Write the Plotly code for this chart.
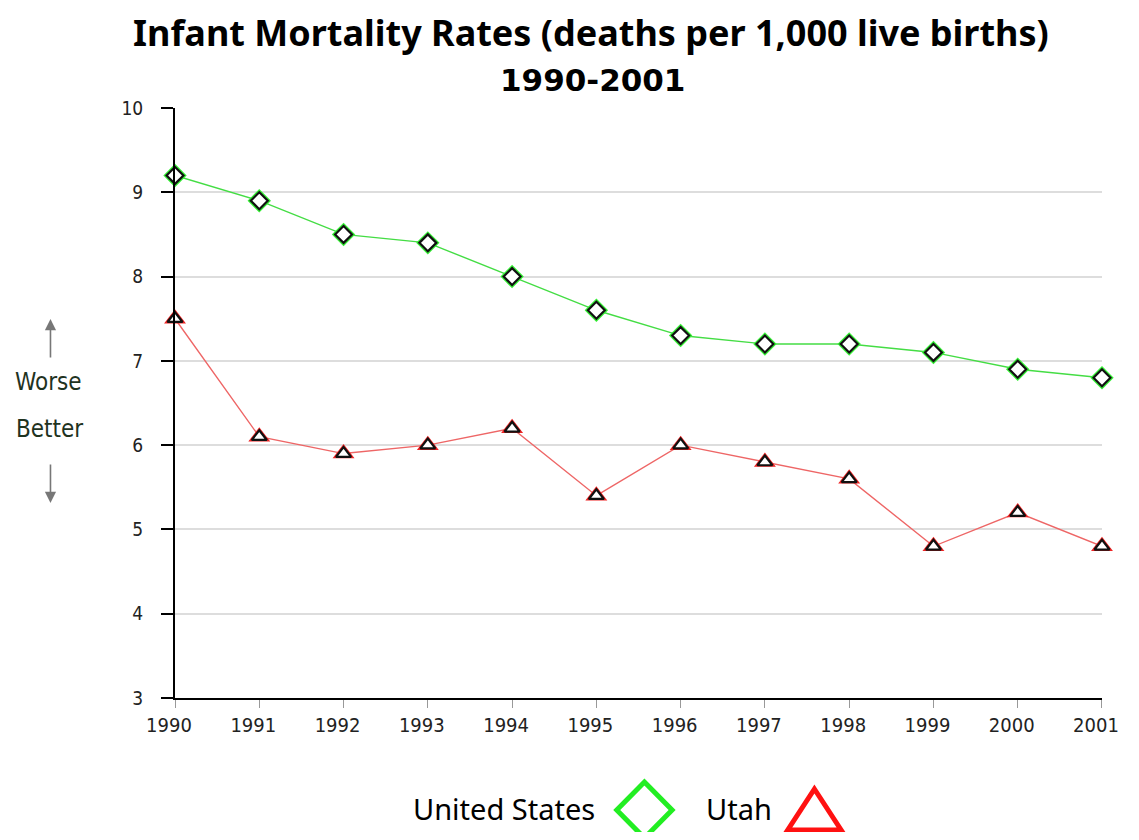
import plotly.graph_objects as go

years = list(range(1990, 2002))
us_rates = [9.2, 8.9, 8.5, 8.4, 8.0, 7.6, 7.3, 7.2, 7.2, 7.1, 6.9, 6.8]
utah_rates = [7.5, 6.1, 5.9, 6.0, 6.2, 5.4, 6.0, 5.8, 5.6, 4.8, 5.2, 4.8]
y_ticks = [3, 4, 5, 6, 7, 8, 9, 10]

# page has an 8px body margin; size figure to fit in viewport
OFF = 8
W, H = 1123, 824
L, T = 175 - OFF, 108 - OFF
R = W - (1113 - OFF)
B = H - (698 - OFF)
pw, ph = W - L - R, H - T - B

def px(x):
    return (x - OFF - L) / pw

def py(y):
    return (H - B - (y - OFF)) / ph

fig = go.Figure()

# United States
fig.add_trace(go.Scatter(x=years, y=us_rates, mode="lines", line=dict(color="#44dd44", width=1.4),
                         showlegend=False, hoverinfo="skip", cliponaxis=False))
fig.add_trace(go.Scatter(x=years, y=us_rates, mode="markers", showlegend=False, cliponaxis=False,
                         marker=dict(symbol="diamond", size=18, color="#33ee33", line=dict(width=0))))
fig.add_trace(go.Scatter(x=years, y=us_rates, mode="markers", name="United States", showlegend=False,
                         cliponaxis=False,
                         marker=dict(symbol="diamond", size=13, color="white", line=dict(color="#111111", width=2.2))))

# Utah
fig.add_trace(go.Scatter(x=years, y=utah_rates, mode="lines", line=dict(color="#ee6666", width=1.4),
                         showlegend=False, hoverinfo="skip", cliponaxis=False))
fig.add_trace(go.Scatter(x=years, y=utah_rates, mode="markers", showlegend=False, cliponaxis=False,
                         marker=dict(symbol="triangle-up", size=19, color="#ee2222", line=dict(width=0))))
fig.add_trace(go.Scatter(x=years, y=utah_rates, mode="markers", name="Utah", showlegend=False,
                         cliponaxis=False,
                         marker=dict(symbol="triangle-up", size=13, color="white", line=dict(color="#111111", width=2.2))))

shapes = []
# legend diamond
cx, cy, hw, hh = 650, 810, 28, 28
shapes.append(dict(type="path", xref="paper", yref="paper",
                   path=f"M {px(cx)} {py(cy-hh)} L {px(cx+hw)} {py(cy)} L {px(cx)} {py(cy+hh)} L {px(cx-hw)} {py(cy)} Z",
                   line=dict(color="#22ee22", width=5), fillcolor="rgba(0,0,0,0)"))
# legend triangle
shapes.append(dict(type="path", xref="paper", yref="paper",
                   path=f"M {px(822)} {py(789)} L {px(849)} {py(830)} L {px(795)} {py(830)} Z",
                   line=dict(color="#ff1111", width=5), fillcolor="rgba(0,0,0,0)"))

annotations = [
    dict(text="<b>Infant Mortality Rates (deaths per 1,000 live births)</b>", x=px(596), y=py(32),
         xref="paper", yref="paper", showarrow=False, font=dict(size=36, color="black", family="Noto Sans"),
         xanchor="center", yanchor="middle"),
    dict(text="<b>1990-2001</b>", x=px(597), y=py(80),
         xref="paper", yref="paper", showarrow=False, font=dict(size=31, color="black", family="DejaVu Sans"),
         xanchor="center", yanchor="middle"),
    dict(text="United States", x=px(602), y=py(808), xref="paper", yref="paper", showarrow=False,
         font=dict(size=29, color="black", family="Noto Sans"), xanchor="right", yanchor="middle"),
    dict(text="Utah", x=px(710), y=py(808), xref="paper", yref="paper", showarrow=False,
         font=dict(size=29, color="black", family="Noto Sans"), xanchor="left", yanchor="middle"),
    dict(text="Worse", x=px(47), y=py(382), xref="paper", yref="paper", showarrow=False,
         font=dict(size=24, color="#1f331f", family="DejaVu Sans Condensed, DejaVu Sans"), xanchor="center", yanchor="middle"),
    dict(text="Better", x=px(48), y=py(429), xref="paper", yref="paper", showarrow=False,
         font=dict(size=24, color="#1f331f", family="DejaVu Sans Condensed, DejaVu Sans"), xanchor="center", yanchor="middle"),
    dict(text="", x=px(49), y=py(319), xref="paper", yref="paper", showarrow=True,
         axref="pixel", ayref="pixel", ax=0, ay=40, arrowhead=2, arrowsize=1.4, arrowwidth=1.6, arrowcolor="#777777"),
    dict(text="", x=px(49), y=py(503), xref="paper", yref="paper", showarrow=True,
         axref="pixel", ayref="pixel", ax=0, ay=-40, arrowhead=2, arrowsize=1.4, arrowwidth=1.6, arrowcolor="#777777"),
]

fig.update_layout(
    width=W, height=H,
    margin=dict(l=L, r=R, t=T, b=B),
    paper_bgcolor="white", plot_bgcolor="white",
    font=dict(family="DejaVu Sans Condensed, DejaVu Sans", color="#222222"),
    shapes=shapes, annotations=annotations, showlegend=False,
    xaxis=dict(range=[1989.9999, 2001.0001], tickvals=years, ticktext=[str(y) for y in years],
               showgrid=False, zeroline=False, showline=True, linecolor="black", linewidth=2,
               ticks="outside", ticklen=8, tickcolor="#999999", tickwidth=1, ticklabelshift=-6,
               tickfont=dict(size=20, color="#222222", family="DejaVu Sans Condensed, DejaVu Sans")),
    yaxis=dict(range=[3, 10], tickvals=y_ticks, showgrid=True, gridcolor="#dddddd", gridwidth=1.5,
               zeroline=False, showline=True, linecolor="black", linewidth=2,
               ticks="outside", ticklen=12, tickcolor="black", tickwidth=2, ticklabelstandoff=14,
               tickfont=dict(size=19, color="#222222", family="DejaVu Sans Condensed, DejaVu Sans")),
)

fig.write_html("out.html", config={"displayModeBar": False})
